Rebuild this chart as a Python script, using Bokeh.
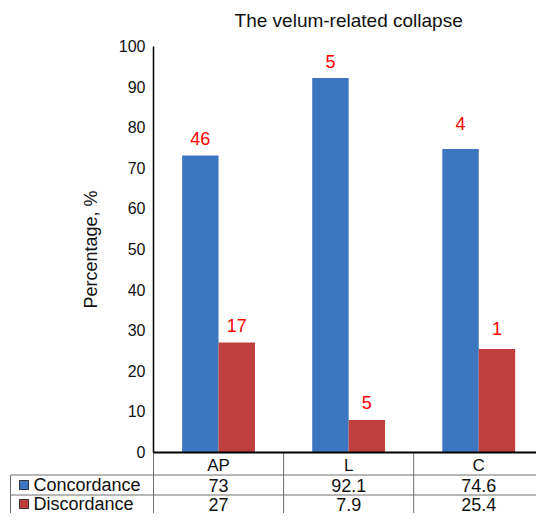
from bokeh.plotting import figure
from bokeh.models import LinearAxis, FixedTicker, Label, ColumnDataSource
from bokeh.core.properties import value
from bokeh.embed import file_html
from bokeh.resources import INLINE

# ---------------- data ----------------
categories = ["AP", "L", "C"]
series_names = ["Concordance", "Discordance"]
concordance = [73, 92.1, 74.6]
discordance = [27, 7.9, 25.4]
concordance_n = [46, 5, 4]
discordance_n = [17, 5, 1]
y_ticks = [0, 10, 20, 30, 40, 50, 60, 70, 80, 90, 100]
title_text = "The velum-related collapse"
y_label = "Percentage, %"

# ---------------- style / layout ----------------
BLUE = "#3D76C0"
RED = "#BE3F3B"
LABEL_RED = "#FF0000"
GRID = "#6e6e6e"
TXT = "#111111"
FONT = "Liberation Sans"

W, H = 536, 513          # figure size
PX_COL = 130.1           # px per category column
PX_Y = 4.06              # px per percent
AXIS_X = 153             # figure px where x = 0
Y0 = 451.5               # figure px (from top) where y = 0
FRAME_LEFT = 1
ROW_LINES_PX = [474.5, 494.5]      # table row separators (px from top)
ROW_CENTERS_PX = [484.5, 503.5]    # value rows
LEGEND_LEFT_PX = 10
# pixel offsets of the count labels above the bar tops (as placed in the original)
conc_label_off = [-17, -17, -26]
disc_label_off = [-17, -17, -20]

x_start = (FRAME_LEFT - AXIS_X) / PX_COL
x_end = (W - AXIS_X) / PX_COL
y_end = Y0 / PX_Y
y_start = -(H - Y0) / PX_Y


def px_x(px):  # figure px -> data x
    return (px - AXIS_X) / PX_COL


def px_y(py):  # figure px (from top) -> data y
    return (Y0 - py) / PX_Y


p = figure(width=W, height=H, x_range=(x_start, x_end), y_range=(y_start, y_end),
           x_axis_location=None, y_axis_location=None,
           toolbar_location=None, output_backend="svg",
           min_border_left=FRAME_LEFT, min_border_right=0,
           min_border_top=0, min_border_bottom=0)
p.outline_line_color = None
p.background_fill_color = "white"
p.border_fill_color = "white"
p.grid.visible = False

n = len(categories)
centers = [i + 0.5 for i in range(n)]
bw = 0.28
x_conc = [c - bw / 2 for c in centers]
x_disc = [c + bw / 2 for c in centers]

src = ColumnDataSource(dict(
    x_conc=x_conc, x_disc=x_disc, conc=concordance, disc=discordance,
    conc_n=[str(v) for v in concordance_n], disc_n=[str(v) for v in discordance_n],
    conc_off=conc_label_off, disc_off=disc_label_off,
    centers=centers,
    conc_txt=[f"{v:g}" for v in concordance], disc_txt=[f"{v:g}" for v in discordance],
))

p.vbar(x="x_conc", top="conc", bottom=0, width=bw, source=src,
       fill_color=BLUE, line_color=None)
p.vbar(x="x_disc", top="disc", bottom=0, width=bw, source=src,
       fill_color=RED, line_color=None)

# count labels above the bars
for xcol, ycol, tcol, ocol in (("x_conc", "conc", "conc_n", "conc_off"),
                               ("x_disc", "disc", "disc_n", "disc_off")):
    p.text(x=xcol, y=ycol, text=tcol, source=src, text_align="center",
           text_baseline="alphabetic", y_offset=ocol,
           text_font=value(FONT), text_font_size="18px", text_color=LABEL_RED)

# ---------------- data table ----------------
for ly in ROW_LINES_PX:
    p.segment(x0=px_x(LEGEND_LEFT_PX), y0=px_y(ly), x1=n, y1=px_y(ly),
              line_color=GRID, line_width=1)
for i in range(n):
    p.segment(x0=i, y0=0, x1=i, y1=y_start, line_color=GRID, line_width=1)
p.segment(x0=n, y0=0, x1=n, y1=y_start, line_color="#c0c0c0", line_width=1)
p.segment(x0=px_x(LEGEND_LEFT_PX), y0=px_y(ROW_LINES_PX[0]), x1=px_x(LEGEND_LEFT_PX),
          y1=y_start, line_color=GRID, line_width=1)

for ry, col in zip(ROW_CENTERS_PX, ("conc_txt", "disc_txt")):
    p.text(x="centers", y=px_y(ry), text=col, source=src, text_align="center",
           text_baseline="middle", text_font=value(FONT), text_font_size="18px",
           text_color=TXT)

# legend keys inside the table
for ry, name, colr in zip(ROW_CENTERS_PX, series_names, (BLUE, RED)):
    p.scatter(x=[px_x(23.5)], y=[px_y(ry)], marker="square", size=9, fill_color=colr,
              line_color="#333333", line_width=1)
    p.text(x=[px_x(33)], y=[px_y(ry)], text=[name], text_align="left", text_baseline="middle",
           text_font=value(FONT), text_font_size="18px", text_color=TXT)

# ---------------- axes ----------------
yaxis = LinearAxis(fixed_location=0, bounds=(0, 100), ticker=FixedTicker(ticks=y_ticks),
                   axis_label=y_label)
yaxis.axis_line_color = "black"
yaxis.axis_line_width = 1.5
yaxis.major_tick_line_color = None
yaxis.minor_tick_line_color = None
yaxis.major_tick_out = 0
yaxis.major_tick_in = 0
yaxis.major_label_standoff = 8
yaxis.major_label_text_font = FONT
yaxis.major_label_text_font_size = "16px"
yaxis.major_label_text_color = TXT
yaxis.axis_label_text_font = FONT
yaxis.axis_label_text_font_size = "18px"
yaxis.axis_label_text_font_style = "normal"
yaxis.axis_label_text_color = TXT
yaxis.axis_label_standoff = 15
p.add_layout(yaxis, "left")

xaxis = LinearAxis(fixed_location=0, bounds=(0, n), ticker=FixedTicker(ticks=centers),
                   major_label_overrides={c: cat for c, cat in zip(centers, categories)})
xaxis.axis_line_color = "black"
xaxis.axis_line_width = 2
xaxis.major_tick_line_color = None
xaxis.minor_tick_line_color = None
xaxis.major_tick_out = 0
xaxis.major_tick_in = 0
xaxis.major_label_standoff = 4
xaxis.major_label_text_font = FONT
xaxis.major_label_text_font_size = "17px"
xaxis.major_label_text_color = TXT
p.add_layout(xaxis, "below")

# title
p.add_layout(Label(x=n / 2, y=px_y(20), text=title_text, text_align="center",
                   text_baseline="middle", text_font=FONT, text_font_size="19px",
                   text_color=TXT))

open("out.html", "w").write(file_html(p, INLINE))
